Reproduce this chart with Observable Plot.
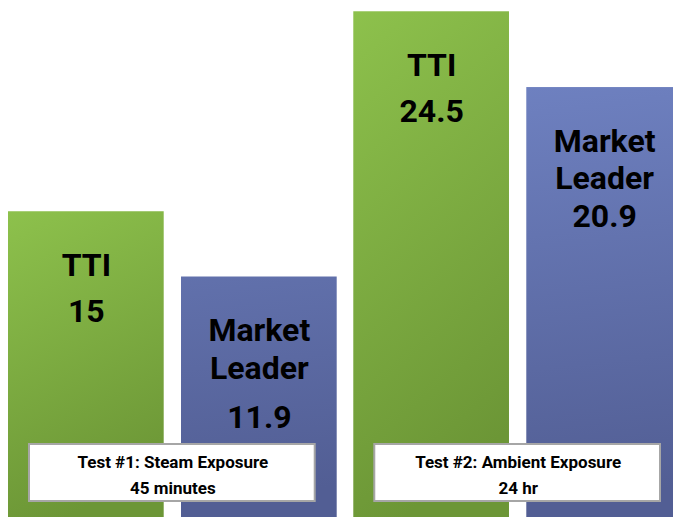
<!DOCTYPE html>
<html><head><meta charset="utf-8">
<script src="https://cdn.jsdelivr.net/npm/d3@7"></script>
<script src="https://cdn.jsdelivr.net/npm/@observablehq/plot@0.6"></script>
<style>html,body{margin:0;padding:0;background:#fff;overflow:hidden}</style>
</head><body><div id="chart"></div>
<script>
// ---- data ----
const groups = ["Test #1", "Test #2"];
const groupTitles = ["Test #1: Steam Exposure", "Test #2: Ambient Exposure"];
const groupDurations = ["45 minutes", "24 hr"];
const series = ["TTI", "Market Leader"];
const ttiValues = [15, 24.5];
const leaderValues = [11.9, 20.9];

// ---- table built from the arrays ----
const bars = groups.flatMap((g, i) => [
  {group: g, series: series[0], value: ttiValues[i]},
  {group: g, series: series[1], value: leaderValues[i]}
]);
const boxes = groups.map((g, i) => ({group: g, title: groupTitles[i], duration: groupDurations[i]}));

// ---- layout (pixel offsets of label lines below bar top) ----
const firstLine = 64, lineStep = 37.5;
const valueGap = [46, 49, 46, 38];
const lines = bars.flatMap((d, b) => {
  const words = d.series.split(" ");
  const out = words.map((w, k) => ({...d, text: w, dy: firstLine + lineStep * k}));
  out.push({...d, text: String(d.value), dy: firstLine + lineStep * (words.length - 1) + valueGap[b]});
  return out;
});
const dys = [...new Set(lines.map(d => d.dy))];

const labelMarks = dys.map(dy => Plot.text(lines.filter(d => d.dy === dy), {
  fx: "group", x: "series", y: "value", text: "text",
  dy, lineAnchor: "bottom", fontSize: 32, fontWeight: "bold", fill: "black"
}));

const plot = Plot.plot({
  width: 673, height: 517,
  marginTop: 0, marginRight: 0, marginBottom: 0, marginLeft: 0,
  fx: {domain: groups, range: [8, 682], paddingInner: 0.048, paddingOuter: 0, round: false, axis: null, label: null},
  x: {domain: series, range: [0, 328.7], paddingInner: 0.1, paddingOuter: 0, round: false, axis: null},
  y: {domain: [0, 25], range: [527, 0.75], axis: null},
  style: {fontFamily: "Roboto, 'Noto Sans', sans-serif", background: "white", overflow: "hidden"},
  marks: [
    Plot.barY(bars, {
      fx: "group", x: "series", y: "value",
      fill: d => d.series === "TTI" ? "url(#gGreen)" : "url(#gBlue)"
    }),
    ...labelMarks,
    Plot.rect(boxes, {
      fx: "group", fill: "white", stroke: "#A6A6A6", strokeWidth: 2,
      insetLeft: 21, insetRight: 22, insetTop: 444, insetBottom: 16
    }),
    Plot.text(boxes, {
      fx: "group", text: "title", frameAnchor: "bottom", lineAnchor: "bottom",
      dy: -50, fontSize: 17, fontWeight: "bold", fill: "black"
    }),
    Plot.text(boxes, {
      fx: "group", text: "duration", frameAnchor: "bottom", lineAnchor: "bottom",
      dy: -24, fontSize: 17, fontWeight: "bold", fill: "black"
    })
  ]
});

const svg = d3.select(plot);
const defs = svg.insert("defs", ":first-child");
const gg = defs.append("linearGradient").attr("id", "gGreen")
  .attr("x1", 0).attr("y1", 0).attr("x2", 0.25).attr("y2", 1);
gg.append("stop").attr("offset", 0).attr("stop-color", "#8DC14C");
gg.append("stop").attr("offset", 1).attr("stop-color", "#6C9636");
const gb = defs.append("linearGradient").attr("id", "gBlue")
  .attr("gradientUnits", "userSpaceOnUse")
  .attr("x1", 0).attr("y1", 0).attr("x2", 60).attr("y2", 517);
gb.append("stop").attr("offset", 0).attr("stop-color", "#7589CB");
gb.append("stop").attr("offset", 1).attr("stop-color", "#525E94");

document.getElementById("chart").append(plot);
</script>
</body></html>
